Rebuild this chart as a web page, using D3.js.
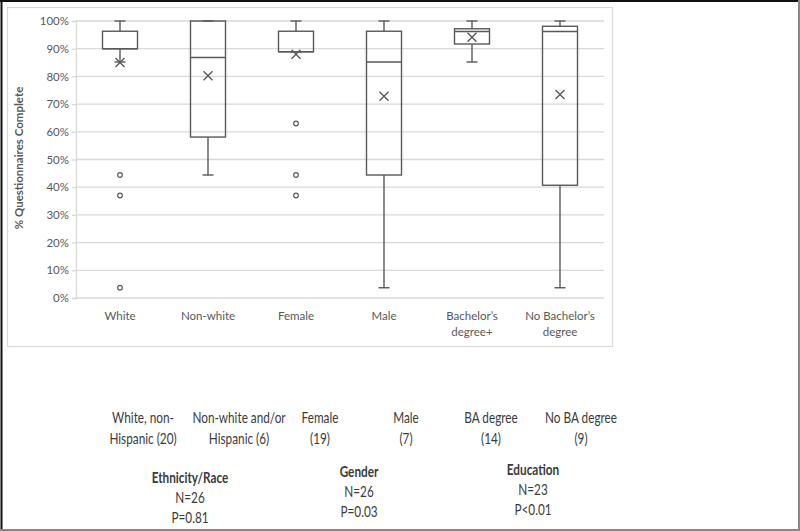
<!DOCTYPE html>
<html>
<head>
<meta charset="utf-8">
<script src="https://cdn.jsdelivr.net/npm/d3@7"></script>
<style>
  body { margin: 0; background: #fff; }
  svg { display: block; font-family: Lato, "Open Sans", sans-serif; }
</style>
</head>
<body>
<svg width="800" height="531"></svg>
<script>
var svg = d3.select('svg');

// data (% questionnaires complete)
var categories = ["White", "Non-white", "Female", "Male", "Bachelor\u2019s degree+", "No Bachelor\u2019s degree"];
var catLines = [["White"], ["Non-white"], ["Female"], ["Male"], ["Bachelor\u2019s", "degree+"], ["No Bachelor\u2019s", "degree"]];
var whiskerHigh = [100, 100, 100, 100, 100, 100];
var q3 = [96.3, 100, 96.3, 96.3, 97.2, 98.1];
var median = [90, 86.8, 88.9, 85.2, 96.2, 96.2];
var q1 = [90, 58.1, 88.9, 44.4, 91.7, 40.7];
var whiskerLow = [85.2, 44.4, 88.9, 3.7, 85.2, 3.7];
var means = [85, 80.2, 88, 72.8, 94.1, 73.5];
var outliers = [[44.4, 37, 3.7], [], [63, 44.4, 37], [], [], []];
var yTicks = [0, 10, 20, 30, 40, 50, 60, 70, 80, 90, 100];

var subLabels = [["White, non-", "Hispanic (20)"], ["Non-white and/or", "Hispanic (6)"], ["Female", "(19)"],
                 ["Male", "(7)"], ["BA degree", "(14)"], ["No BA degree", "(9)"]];
var groupTitles = ["Ethnicity/Race", "Gender", "Education"];
var groupN = ["N=26", "N=26", "N=23"];
var groupP = ["P=0.81", "P=0.03", "P<0.01"];

var boxes = categories.map(function (c, i) {
    return { cat: c, lines: catLines[i], hi: whiskerHigh[i], q3: q3[i], med: median[i],
             q1: q1[i], lo: whiskerLow[i], mean: means[i], out: outliers[i] };
});

var axisCol = "#595959";
var gridCol = "#d9d9d9";

// outer frame of the picture
svg.append("line").attr("x1", 0).attr("x2", 800).attr("y1", 1).attr("y2", 1).attr("stroke", "#111").attr("stroke-width", 2);
svg.append("line").attr("x1", 1.5).attr("x2", 1.5).attr("y1", 0).attr("y2", 531).attr("stroke", "#111").attr("stroke-width", 2);
svg.append("line").attr("x1", 799).attr("x2", 799).attr("y1", 0).attr("y2", 531).attr("stroke", "#888").attr("stroke-width", 2);
svg.append("line").attr("x1", 0).attr("x2", 800).attr("y1", 530).attr("y2", 530).attr("stroke", "#888").attr("stroke-width", 2);

// chart area border
svg.append("rect").attr("x", 7.5).attr("y", 7.5).attr("width", 605).attr("height", 339)
    .attr("fill", "none").attr("stroke", gridCol).attr("stroke-width", 1.2);

var x = d3.scaleBand().domain(categories).range([76, 604]);
var y = d3.scaleLinear().domain([0, 100]).range([298, 21]);

// gridlines
svg.append("g").selectAll("line")
    .data(yTicks)
    .enter()
    .append("line")
    .attr("x1", 76).attr("x2", 604)
    .attr("y1", function (d) { return y(d); })
    .attr("y2", function (d) { return y(d); })
    .attr("stroke", gridCol)
    .attr("stroke-width", 1.3);

var yAxis = svg.append("g")
    .attr("transform", "translate(76,0)")
    .call(d3.axisLeft(y).tickValues(yTicks).tickSize(4).tickFormat(function (d) { return d + "%"; }));
yAxis.select(".domain").attr("stroke", gridCol).attr("stroke-width", 1.3);
yAxis.selectAll(".tick line").attr("stroke", gridCol).attr("stroke-width", 1.3);
yAxis.selectAll(".tick text").attr("fill", axisCol).attr("font-size", 11.5).attr("x", -7)
    .attr("font-family", "Lato, sans-serif");

svg.append("text")
    .attr("transform", "translate(23,158) rotate(-90)")
    .attr("text-anchor", "middle")
    .attr("font-size", 11.5)
    .attr("font-weight", "bold")
    .attr("fill", axisCol)
    .text("% Questionnaires Complete");

// category labels
var catG = svg.append("g").selectAll("text")
    .data(boxes)
    .enter()
    .append("text")
    .attr("text-anchor", "middle")
    .attr("font-size", 11.5)
    .attr("fill", axisCol)
    .attr("x", function (d) { return x(d.cat) + x.bandwidth() / 2; })
    .attr("y", 320);
catG.selectAll("tspan")
    .data(function (d) { return d.lines; })
    .enter()
    .append("tspan")
    .attr("x", function () { return d3.select(this.parentNode).attr("x"); })
    .attr("dy", function (d, i) { return i === 0 ? 0 : 16; })
    .text(function (d) { return d; });

var bw = 35, cap = 11;
var g = svg.append("g").selectAll("g")
    .data(boxes)
    .enter()
    .append("g")
    .attr("transform", function (d) { return "translate(" + (x(d.cat) + x.bandwidth() / 2) + ",0)"; });

var st = { stroke: axisCol, w: 1.4 };

// whiskers
g.append("line").attr("x1", 0).attr("x2", 0)
    .attr("y1", function (d) { return y(d.hi); }).attr("y2", function (d) { return y(d.q3); })
    .attr("stroke", st.stroke).attr("stroke-width", st.w);
g.append("line").attr("x1", 0).attr("x2", 0)
    .attr("y1", function (d) { return y(d.q1); }).attr("y2", function (d) { return y(d.lo); })
    .attr("stroke", st.stroke).attr("stroke-width", st.w);
g.append("line").attr("x1", -cap / 2).attr("x2", cap / 2)
    .attr("y1", function (d) { return y(d.hi); }).attr("y2", function (d) { return y(d.hi); })
    .attr("stroke", st.stroke).attr("stroke-width", st.w);
g.append("line").attr("x1", -cap / 2).attr("x2", cap / 2)
    .attr("y1", function (d) { return y(d.lo); }).attr("y2", function (d) { return y(d.lo); })
    .attr("stroke", st.stroke).attr("stroke-width", st.w);

// box
g.append("rect")
    .attr("x", -bw / 2)
    .attr("width", bw)
    .attr("y", function (d) { return y(d.q3); })
    .attr("height", function (d) { return y(d.q1) - y(d.q3); })
    .attr("fill", "none")
    .attr("stroke", st.stroke).attr("stroke-width", st.w);
g.append("line").attr("x1", -bw / 2).attr("x2", bw / 2)
    .attr("y1", function (d) { return y(d.med); }).attr("y2", function (d) { return y(d.med); })
    .attr("stroke", st.stroke).attr("stroke-width", st.w);

// mean markers
var m = 4.5;
g.append("path")
    .attr("d", function (d) {
        var yy = y(d.mean);
        return "M" + (-m) + "," + (yy - m) + "L" + m + "," + (yy + m) + "M" + (-m) + "," + (yy + m) + "L" + m + "," + (yy - m);
    })
    .attr("stroke", axisCol).attr("stroke-width", 1.4).attr("fill", "none");

// outliers
g.selectAll("circle")
    .data(function (d) { return d.out; })
    .enter()
    .append("circle")
    .attr("cx", 0)
    .attr("cy", function (d) { return y(d); })
    .attr("r", 2.3)
    .attr("fill", "#fff")
    .attr("stroke", axisCol)
    .attr("stroke-width", 1.2);

// annotations below chart (narrow font look, like the original)
var textCol = "#3b3b3b";
function label(px, py, t, bold) {
    svg.append("text")
        .attr("transform", "translate(" + px + "," + py + ") scale(0.76,1)")
        .attr("text-anchor", "middle")
        .attr("font-size", 15.5)
        .attr("font-weight", bold ? "bold" : "normal")
        .attr("fill", textCol)
        .text(t);
}

var subX = [143, 239, 320, 406, 491, 581];
subLabels.forEach(function (lines, i) {
    lines.forEach(function (t, j) {
        label(subX[i], 423 + j * 21, t, false);
    });
});

var grpX = [190, 359, 533];
var grpY = [483, 477, 475];
groupTitles.forEach(function (t, i) {
    label(grpX[i], grpY[i], t, true);
    label(grpX[i], grpY[i] + 20, groupN[i], false);
    label(grpX[i], grpY[i] + 40, groupP[i], false);
});
</script>
</body>
</html>
